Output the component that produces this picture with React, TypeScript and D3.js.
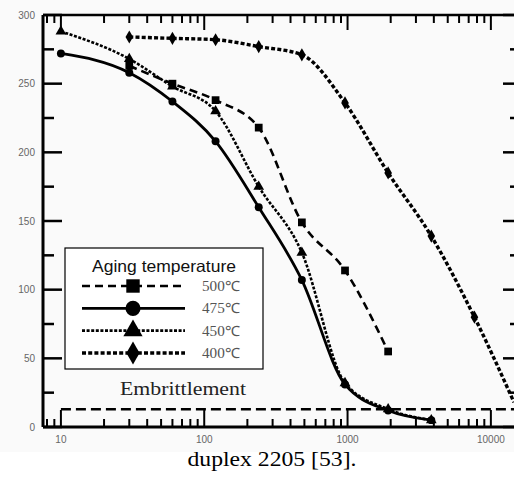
import React, { useEffect, useRef } from 'react'
import * as d3 from 'd3'

const width = 514
const height = 482
const frame = { top: 15, bottom: 427, left: 43, right: 514 }

// aging time (x) and hardness-like values per temperature
const times = [10, 30, 60, 120, 240, 480, 960, 1920, 3840, 7680]
const values500 = [null, 263, 250, 238, 218, 149, 114, 55, null, null]
const values475 = [272, 258, 237, 208, 160, 107, 31, 12, 5, null]
const values450 = [288, 268, 248, 230, 175, 127, 32, 13, 5, null]
const values400 = [null, 284, 283, 282, 277, 271, 236, 185, 139, 80]
const tail400 = [14500, 18]

const legendLabels = ['500℃', '475℃', '450℃', '400℃']
const xTickLabels = [10, 100, 1000, 10000]
const yTickLabels = [0, 50, 100, 150, 200, 250, 300]
const yMinorTicks = [25, 75, 125, 175, 225, 275]
const embrittlement = 13

const styles = [
    { dash: '8,5', width: 2.6, symbol: d3.symbolSquare, size: 60, legendSize: 180 },
    { dash: null, width: 2.8, symbol: d3.symbolCircle, size: 50, legendSize: 180 },
    { dash: '3,1.6', width: 2.6, symbol: d3.symbolTriangle, size: 50, legendSize: 160 },
    { dash: '4,2.2', width: 3.4, symbol: d3.symbolDiamond, size: 50, legendSize: 150 },
]

export default function App() {
    const svgNode = useRef<SVGSVGElement>(null)

    useEffect(() => {
        const svg = d3.select(svgNode.current)
        svg.selectAll('*').remove()

        const x = d3.scaleLog().domain([7.5, 14500]).range([frame.left, frame.right])
        const y = d3.scaleLinear().domain([0, 300]).range([frame.bottom, frame.top])

        svg.append('rect')
            .attr('width', width).attr('height', 452)
            .attr('fill', '#fafafa')

        const g = svg.append('g')

        // frame lines
        g.append('line').attr('x1', frame.left).attr('x2', frame.right)
            .attr('y1', frame.bottom).attr('y2', frame.bottom)
            .attr('stroke', '#000').attr('stroke-width', 3)
        g.append('line').attr('x1', frame.left).attr('x2', frame.right)
            .attr('y1', frame.top).attr('y2', frame.top)
            .attr('stroke', '#000').attr('stroke-width', 2.5)
        g.append('line').attr('x1', frame.left).attr('x2', frame.left)
            .attr('y1', frame.top).attr('y2', frame.bottom)
            .attr('stroke', '#000').attr('stroke-width', 3)

        // x ticks, bottom and top
        const xTicks = x.ticks()
        const isMajor = (d: number) => Math.abs(Math.log10(d) - Math.round(Math.log10(d))) < 1e-6
        g.selectAll('.xb').data(xTicks).join('line')
            .attr('x1', d => x(d)).attr('x2', d => x(d))
            .attr('y1', frame.bottom).attr('y2', d => frame.bottom - (isMajor(d) ? 17 : 8))
            .attr('stroke', '#000').attr('stroke-width', 2)
        g.selectAll('.xt').data(xTicks).join('line')
            .attr('x1', d => x(d)).attr('x2', d => x(d))
            .attr('y1', frame.top).attr('y2', d => frame.top + (isMajor(d) ? 15 : 8))
            .attr('stroke', '#000').attr('stroke-width', 2)

        // y ticks, left and right
        g.selectAll('.yl').data(yTickLabels).join('line')
            .attr('x1', frame.left).attr('x2', frame.left + 19)
            .attr('y1', d => y(d)).attr('y2', d => y(d))
            .attr('stroke', '#000').attr('stroke-width', 2.5)
        g.selectAll('.ylm').data(yMinorTicks).join('line')
            .attr('x1', frame.left).attr('x2', frame.left + 11)
            .attr('y1', d => y(d)).attr('y2', d => y(d))
            .attr('stroke', '#000').attr('stroke-width', 2.5)
        g.selectAll('.yr').data(yTickLabels).join('line')
            .attr('x1', frame.right).attr('x2', frame.right - 11)
            .attr('y1', d => y(d)).attr('y2', d => y(d))
            .attr('stroke', '#000').attr('stroke-width', 2.5)
        g.selectAll('.yrm').data(yMinorTicks).join('line')
            .attr('x1', frame.right).attr('x2', frame.right - 4)
            .attr('y1', d => y(d)).attr('y2', d => y(d))
            .attr('stroke', '#000').attr('stroke-width', 2.5)

        // tick labels
        g.selectAll('.ylab').data(yTickLabels).join('text')
            .attr('x', 35).attr('y', d => y(d) + 3.5)
            .attr('text-anchor', 'end')
            .style('font', '10px Arial, "Liberation Sans", sans-serif')
            .attr('fill', '#666')
            .text(d => d)
        g.selectAll('.xlab').data(xTickLabels).join('text')
            .attr('x', d => x(d)).attr('y', 443)
            .attr('text-anchor', 'middle')
            .style('font', '10px Arial, "Liberation Sans", sans-serif')
            .attr('fill', '#666')
            .text(d => d)

        // embrittlement level
        g.append('line')
            .attr('x1', x(10)).attr('x2', frame.right)
            .attr('y1', y(embrittlement)).attr('y2', y(embrittlement))
            .attr('stroke', '#000').attr('stroke-width', 2.5)
            .attr('stroke-dasharray', '10,5')
        g.append('text')
            .attr('x', 120).attr('y', 395)
            .attr('textLength', 126).attr('lengthAdjust', 'spacingAndGlyphs')
            .style('font', '18px "Times New Roman", "Liberation Serif", serif')
            .attr('fill', '#222')
            .text('Embrittlement')

        // curves
        const all = [values500, values475, values450, values400]
        const line = d3.line<number[]>()
            .x(d => x(d[0])).y(d => y(d[1]))
            .curve(d3.curveMonotoneX)
        all.forEach((vals, i) => {
            const pts = times.map((t, j) => [t, vals[j]]).filter(d => d[1] != null) as number[][]
            const linePts = i === 3 ? [...pts, tail400] : pts
            const st = styles[i]
            g.append('path')
                .attr('d', line(linePts))
                .attr('fill', 'none')
                .attr('stroke', '#000')
                .attr('stroke-width', st.width)
                .attr('stroke-dasharray', st.dash)
            g.selectAll('.m' + i).data(pts).join('path')
                .attr('transform', d => `translate(${x(d[0])},${y(d[1])})`)
                .attr('d', d3.symbol(st.symbol, st.size)())
                .attr('fill', '#000')
        })

        // legend
        const lg = svg.append('g')
        lg.append('rect')
            .attr('x', 65).attr('y', 248).attr('width', 198).attr('height', 121)
            .attr('fill', '#fff').attr('stroke', '#000').attr('stroke-width', 1.2)
        lg.append('text')
            .attr('x', 164).attr('y', 272)
            .attr('text-anchor', 'middle')
            .attr('textLength', 144).attr('lengthAdjust', 'spacingAndGlyphs')
            .style('font', '16.5px Arial, "Liberation Sans", sans-serif')
            .attr('fill', '#111')
            .text('Aging temperature')
        const rowY = d3.scaleLinear().domain([0, 3]).range([286, 353])
        legendLabels.forEach((lab, i) => {
            const st = styles[i]
            const yy = rowY(i)
            lg.append('line')
                .attr('x1', 82).attr('x2', 185).attr('y1', yy).attr('y2', yy)
                .attr('stroke', '#000').attr('stroke-width', st.width)
                .attr('stroke-dasharray', st.dash)
            lg.append('path')
                .attr('transform', `translate(133,${yy})`)
                .attr('d', d3.symbol(st.symbol, st.legendSize)())
                .attr('fill', '#000')
            lg.append('text')
                .attr('x', 202).attr('y', yy + 5)
                .attr('textLength', 38).attr('lengthAdjust', 'spacingAndGlyphs')
                .style('font', '14px "Times New Roman", "Liberation Serif", serif')
                .attr('fill', '#555')
                .text(lab)
        })

        // caption
        svg.append('text')
            .attr('x', 272).attr('y', 466)
            .attr('text-anchor', 'middle')
            .attr('textLength', 169).attr('lengthAdjust', 'spacingAndGlyphs')
            .style('font', '21px "Times New Roman", "Liberation Serif", serif')
            .attr('fill', '#000')
            .text('duplex 2205 [53].')
    }, [])

    return (
        <div style={{ position: 'absolute', left: 0, top: 0 }}>
            <svg ref={svgNode} width={width} height={height} style={{ display: 'block', background: '#fff' }} />
        </div>
    )
}
